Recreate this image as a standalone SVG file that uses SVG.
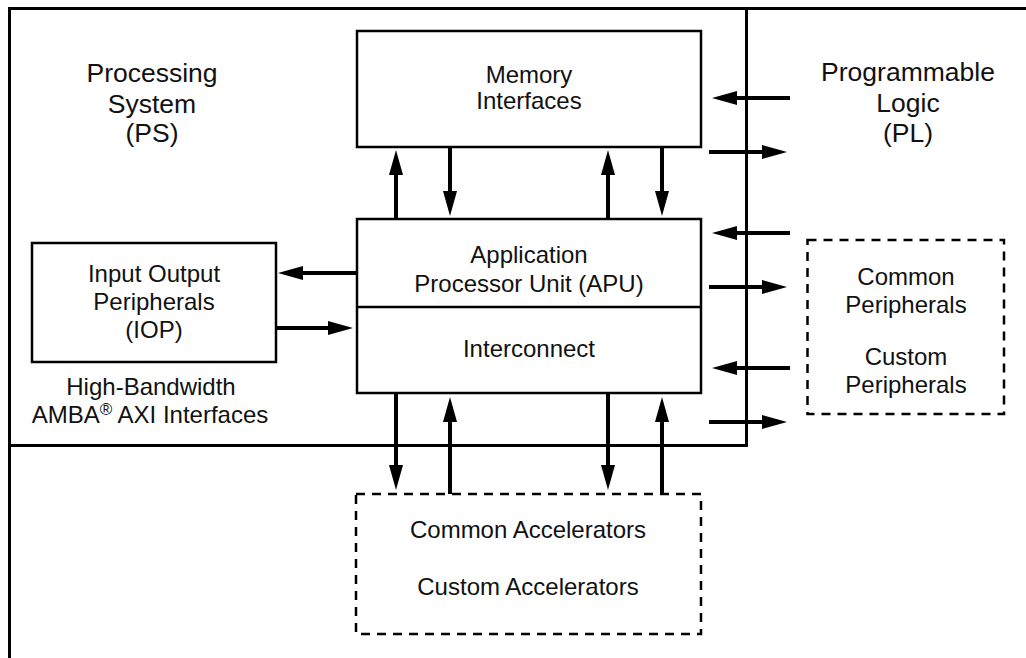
<svg xmlns="http://www.w3.org/2000/svg" width="1026" height="658" viewBox="0 0 1026 658">
<style>
text{font-family:"Liberation Sans",Arial,Helvetica,sans-serif;fill:#111;text-anchor:middle}
.h{font-size:26.5px}
.t{font-size:24px}
.box{fill:#fff;stroke:#000;stroke-width:2.5}
.dash{fill:none;stroke:#000;stroke-width:2.5;stroke-dasharray:9 7}
.frame{fill:none;stroke:#000;stroke-width:3}
.c{stroke:#000;stroke-width:4;fill:none;marker-end:url(#ah)}
</style>
<defs>
<marker id="ah" markerUnits="userSpaceOnUse" markerWidth="26" markerHeight="14" viewBox="0 0 25 14" refX="5" refY="7" orient="auto">
<path d="M0,0 L25,7 L0,14 z" fill="#000"/>
</marker>
</defs>
<g id="frame">
<path class="frame" d="M9.5,658 V8.5 H1026"/>
<path class="frame" d="M746.5,8.5 V445.5 H9.5"/>
</g>
<g id="ps-label">
<text class="h" x="152" y="82">Processing</text>
<text class="h" x="152" y="113">System</text>
<text class="h" x="152" y="142">(PS)</text>
</g>
<g id="pl-label">
<text class="h" x="908" y="81">Programmable</text>
<text class="h" x="908" y="112">Logic</text>
<text class="h" x="908" y="142">(PL)</text>
</g>
<g id="memory">
<rect class="box" x="357" y="31" width="344" height="116"/>
<text class="t" x="529" y="83">Memory</text>
<text class="t" x="529" y="109">Interfaces</text>
</g>
<g id="apu">
<rect class="box" x="357" y="219" width="344" height="174"/>
<line x1="357" y1="307" x2="701" y2="307" stroke="#000" stroke-width="2.5"/>
<text class="t" x="529" y="263">Application</text>
<text class="t" x="529" y="292">Processor Unit (APU)</text>
<text class="t" x="529" y="357">Interconnect</text>
</g>
<g id="iop">
<rect class="box" x="32" y="243" width="244" height="119"/>
<text class="t" x="154" y="282">Input Output</text>
<text class="t" x="154" y="310">Peripherals</text>
<text class="t" x="154" y="338">(IOP)</text>
</g>
<g id="axi-label">
<text class="t" x="151" y="395">High-Bandwidth</text>
<text class="t" x="150" y="423">AMBA<tspan font-size="17" dy="-8">®</tspan><tspan dy="8"> AXI Interfaces</tspan></text>
</g>
<g id="peripherals">
<rect class="dash" x="807.5" y="240" width="196.5" height="174"/>
<text class="t" x="906" y="285">Common</text>
<text class="t" x="906" y="313">Peripherals</text>
<text class="t" x="906" y="365">Custom</text>
<text class="t" x="906" y="393">Peripherals</text>
</g>
<g id="accelerators">
<rect class="dash" x="356" y="494" width="345" height="140"/>
<text class="t" x="528" y="538">Common Accelerators</text>
<text class="t" x="528" y="595">Custom Accelerators</text>
</g>
<g id="connectors">
<line class="c" x1="396" y1="219" x2="396" y2="170"/>
<line class="c" x1="450" y1="147" x2="450" y2="196"/>
<line class="c" x1="608" y1="219" x2="608" y2="170"/>
<line class="c" x1="662" y1="147" x2="662" y2="196"/>
<line class="c" x1="396" y1="393" x2="396" y2="470"/>
<line class="c" x1="450" y1="494" x2="450" y2="417"/>
<line class="c" x1="608" y1="393" x2="608" y2="470"/>
<line class="c" x1="662" y1="494" x2="662" y2="417"/>
<line class="c" x1="357" y1="273" x2="298" y2="273"/>
<line class="c" x1="276" y1="328" x2="333" y2="328"/>
<line class="c" x1="790" y1="98" x2="732" y2="98"/>
<line class="c" x1="709" y1="152" x2="767" y2="152"/>
<line class="c" x1="790" y1="233" x2="732" y2="233"/>
<line class="c" x1="709" y1="287" x2="767" y2="287"/>
<line class="c" x1="790" y1="368" x2="732" y2="368"/>
<line class="c" x1="709" y1="422" x2="767" y2="422"/>
</g>
</svg>
